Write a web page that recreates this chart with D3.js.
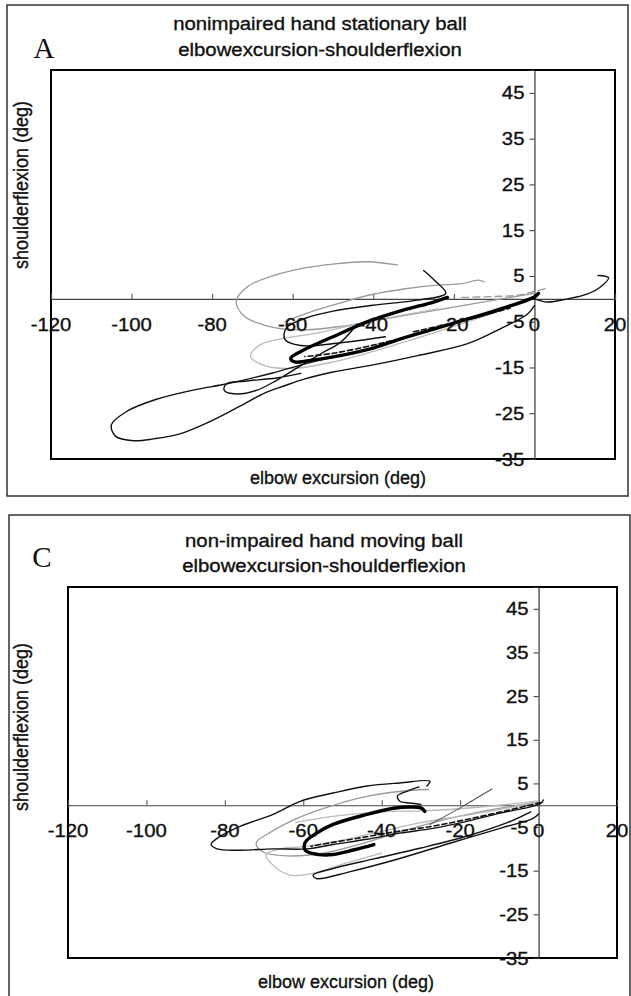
<!DOCTYPE html>
<html>
<head>
<meta charset="utf-8">
<script src="https://cdn.jsdelivr.net/npm/d3@7"></script>
<style>
  html, body { margin: 0; padding: 0; background: #fff; }
  svg { display: block; }
</style>
</head>
<body>
<div id="chart"></div>
<script>
// axis ticks shared by both panels
const xTicks = [-120, -100, -80, -60, -40, -20, 0, 20];
const yTicks = [45, 35, 25, 15, 5, -5, -15, -25, -35];
const xDomain = [-120, 20];
const yDomain = [-35, 50];

// Panel A - nonimpaired hand stationary ball (elbow excursion, shoulder flexion)
const aThick = [[1,1.2],[0,0.4],[-8.4,-2.2],[-16.6,-4.4],[-25,-6.6],[-33,-8.7],[-41,-11],[-50,-12.7],[-56,-13.5],[-59.5,-13.8],[-60.5,-13],[-58,-11.5],[-54,-9.8],[-50,-8.3],[-41.4,-5],[-33,-2.6],[-25,-0.7],[-21.6,0.3]];
const aBundle = [[0.5,0.8],[-10,-2.9],[-20,-5.4],[-30,-7.9],[-40,-10.1],[-50,-11.9],[-57,-12.6]];
const aHook = [[-27.5,6.2],[-24.5,3.8],[-22,1.2],[-30,-0.4],[-40,-1.4],[-50,-2.7],[-57,-4.3],[-61.5,-6.3],[-62,-8.8],[-58,-10.2],[-48,-9.6],[-37,-8.3]];
const aBigLoop = [[0,-1.5],[-1.7,-3.3],[-8.4,-6.5],[-16.6,-9.8],[-29,-12.4],[-41,-14.6],[-50,-16],[-57,-17.5],[-62,-19],[-67,-20.6],[-73,-23.4],[-81,-27],[-88,-29.5],[-94.5,-30.6],[-99.5,-31],[-104,-30],[-105,-27.5],[-101,-24.5],[-94,-22],[-85,-20],[-76,-18.5],[-65,-16.2],[-56,-14],[-48,-12.4],[-40,-10.8]];
const aSmallLoop = [[-44,-5.5],[-48,-9.4],[-53,-12],[-58,-14.6],[-64,-17.8],[-69,-20],[-74,-20.8],[-77,-20],[-76.5,-18.6],[-72,-18],[-64,-17.3],[-58,-16.3]];
const aTail = [[0,0],[3.2,-0.7],[8.2,0],[13.2,1.1],[16.4,2.6],[18.4,4.6],[15.8,5.1]];
const aDashMid = [[-30,-7.2],[-24,-6],[-18,-4.8],[-12,-3.5],[-6,-2]];
const aGrayLoop = [[-34,7.4],[-41.4,8.1],[-50,7.6],[-58,6.6],[-65,5],[-71,2.8],[-74,-0.5],[-72,-3.8],[-66,-6],[-58,-6.8],[-48,-6],[-40,-4.8],[-30,-3.3],[-20,-1.8],[-10,-0.3],[0,1.2]];
const aGrayUpper = [[-62,-5],[-55,-2.7],[-47,-0.6],[-40,1],[-32,2.2],[-24,3],[-18,3.3],[-14,4.1],[-12.5,3.7]];
const aGrayLower = [[0,0.6],[-10,-3],[-20,-6],[-30,-8.8],[-40,-11.5],[-50,-13.8],[-60,-15.2],[-67,-14.6],[-70.5,-12.5],[-68,-10],[-62,-8.6],[-54,-7.5],[-44,-5.5],[-34,-3.8],[-24,-2.2]];
const aGrayDash = [[-18,0.3],[-10,0.5],[-4,0.8],[0,1.6],[3,2.3]];

// Panel C - non-impaired hand moving ball
const cBigLoop = [[-28.5,4.4],[-27.7,5.5],[-35.4,5.1],[-43.8,4.4],[-52.4,2.8],[-60.8,0.9],[-67.7,-2.1],[-76,-4.8],[-82,-7.6],[-83.5,-9],[-82,-10],[-76,-10.3],[-67.7,-10],[-59,-10],[-52.4,-9],[-43.8,-7.8],[-35.4,-6.4],[-26.9,-5.3],[-18.3,-3.7],[-9.8,-1.8],[-1.4,-0.2],[0.8,0.6],[1.2,1.2]];
const cBundle = [[0.5,0.6],[-9,-1.4],[-18,-3.2],[-27,-4.8],[-36,-6],[-45,-7.4],[-53,-8.6],[-58,-9.4]];
const cThick = [[-29,-1.4],[-30,-0.6],[-33,-0.4],[-37,-0.7],[-43.8,-2.1],[-52.4,-4.4],[-56.6,-6.4],[-59.5,-8.5],[-59.5,-10.3],[-56,-11.3],[-52.4,-11.3],[-47,-10.2],[-42,-9]];
const cLowLoop = [[0,-2],[-1.4,-3],[-9.8,-5.3],[-22.6,-8.7],[-35.4,-12.2],[-48,-15.2],[-56.6,-16.8],[-57.5,-16],[-52.4,-14.5],[-42,-12.3],[-30,-9.8],[-18,-7],[-8,-4],[-2,-1.5]];
const cDiagonal = [[-27.7,-4.4],[-20,-0.6],[-11.9,3.7]];
const cSquiggle = [[-30.5,4.2],[-33.6,3.2],[-36,2.1],[-35.4,0.9],[-32.8,0.5],[-30,0.2]];
const cGrayLoop = [[-28,3.6],[-35,3.2],[-45,1.8],[-55,-0.8],[-62,-3.2],[-68,-6],[-72,-8.6],[-70.5,-10.6],[-64,-11.6],[-55,-11],[-45,-8.8],[-35,-6],[-25,-3.5],[-15,-1.5],[-5,0],[0,0.8]];
const cGrayLower = [[-40,-11],[-50,-13.5],[-57,-15.5],[-63.4,-16],[-68,-13.5],[-69.5,-11.3],[-66,-10],[-60,-9.5],[-50,-8],[-40,-6],[-30,-4],[-20,-2.5],[-10,-1],[0,0.8]];
const cGrayUpper = [[-62,-4],[-52,-2.5],[-40,-1.5],[-30,-1.3],[-20,-0.8],[-10,0],[0,1]];

// line styles
const STYLE = {
    thick:    { stroke: '#000', width: 3.4 },
    thin:     { stroke: '#111', width: 1.4 },
    dashed:   { stroke: '#111', width: 1.6, dash: '5,3' },
    gray:     { stroke: '#9a9a9a', width: 1.3 },
    lightGray:{ stroke: '#bababa', width: 1.3 },
    grayDash: { stroke: '#999', width: 1.3, dash: '7,4' },
    darkGray: { stroke: '#555', width: 1.1 }
};

const panels = [
    {
        letter: 'A',
        title: ['nonimpaired hand stationary ball', 'elbowexcursion-shoulderflexion'],
        outer: { x: 7, y: 5, w: 621, h: 491 },
        plot: { left: 51, right: 615, top: 70, bottom: 459 },
        letterPos: [44, 58],
        titleX: 320, titleY: [30, 56],
        xLabelPos: [338, 484],
        yLabelPos: [22, 185],
        traces: [
            [aGrayLoop, 'gray'], [aGrayLower, 'lightGray'], [aGrayUpper, 'gray'], [aGrayDash, 'grayDash'],
            [aBigLoop, 'thin'], [aSmallLoop, 'thin'], [aHook, 'thin'], [aTail, 'thin'],
            [aBundle, 'dashed'], [aDashMid, 'dashed'], [aThick, 'thick']
        ]
    },
    {
        letter: 'C',
        title: ['non-impaired hand moving ball', 'elbowexcursion-shoulderflexion'],
        outer: { x: 9, y: 515, w: 621, h: 500 },
        plot: { left: 68, right: 617, top: 587, bottom: 958 },
        letterPos: [42, 567],
        titleX: 324, titleY: [547, 572],
        xLabelPos: [346, 988],
        yLabelPos: [22, 727],
        traces: [
            [cGrayLoop, 'gray'], [cGrayLower, 'lightGray'], [cGrayUpper, 'lightGray'],
            [cDiagonal, 'darkGray'], [cLowLoop, 'thin'], [cBigLoop, 'thin'], [cSquiggle, 'thin'],
            [cBundle, 'dashed'], [cThick, 'thick']
        ]
    }
];

const WIDTH = 631, HEIGHT = 996;
const SX = 1.13; // the scanned lettering is a bit wider than it is tall
const SANS = '"Liberation Sans", Arial, sans-serif';

const svg = d3.select('#chart').append('svg')
    .attr('width', WIDTH)
    .attr('height', HEIGHT);

svg.append('rect').attr('width', WIDTH).attr('height', HEIGHT).attr('fill', '#fff');

// text helper: stretched horizontally around its anchor point
function label(g, x, y, str, size, anchor, sx = SX) {
    return g.append('text')
        .attr('transform', `translate(${x},${y}) scale(${sx},1)`)
        .style('font-family', SANS)
        .style('font-size', size + 'px')
        .attr('text-anchor', anchor)
        .attr('fill', '#111')
        .attr('stroke', '#111')
        .attr('stroke-width', 0.35)
        .text(str);
}

panels.forEach(p => {
    const g = svg.append('g').attr('class', 'panel-' + p.letter);
    const { left, right, top, bottom } = p.plot;

    const x = d3.scaleLinear().domain(xDomain).range([left, right]);
    const y = d3.scaleLinear().domain(yDomain).range([bottom, top]);

    // outer frame
    g.append('rect')
        .attr('x', p.outer.x).attr('y', p.outer.y)
        .attr('width', p.outer.w).attr('height', p.outer.h)
        .attr('fill', 'none')
        .attr('stroke', '#333')
        .attr('stroke-width', 1.5);

    // panel letter + title
    g.append('text')
        .attr('x', p.letterPos[0]).attr('y', p.letterPos[1])
        .style('font-family', '"Liberation Serif", "Times New Roman", serif')
        .style('font-size', '29px')
        .attr('text-anchor', 'middle')
        .attr('fill', '#111')
        .text(p.letter);
    p.title.forEach((t, i) => label(g, p.titleX, p.titleY[i], t, 18, 'middle'));

    // plot area border
    g.append('rect')
        .attr('x', left).attr('y', top)
        .attr('width', right - left).attr('height', bottom - top)
        .attr('fill', 'none')
        .attr('stroke', '#000')
        .attr('stroke-width', 2);

    // x axis sits on y = 0, ticks pointing up
    const xAxis = d3.axisTop(x).tickValues(xTicks).tickSize(5).tickFormat('');
    const gx = g.append('g').attr('transform', `translate(0,${y(0)})`).call(xAxis);
    gx.select('.domain').attr('stroke', '#444').attr('stroke-width', 1.2);
    gx.selectAll('.tick line').attr('stroke', '#444');

    // y axis sits on x = 0, ticks pointing left
    const yAxis = d3.axisLeft(y).tickValues(yTicks).tickSize(5).tickFormat('');
    const gy = g.append('g').attr('transform', `translate(${x(0)},0)`).call(yAxis);
    gy.select('.domain').attr('stroke', '#333').attr('stroke-width', 1.2);
    gy.selectAll('.tick line').attr('stroke', '#333');

    // data traces
    const line = d3.line()
        .x(d => x(d[0]))
        .y(d => y(d[1]))
        .curve(d3.curveCatmullRom.alpha(0.5));

    p.traces.forEach(([pts, styleName]) => {
        const s = STYLE[styleName];
        g.append('path')
            .datum(pts)
            .attr('d', line)
            .attr('fill', 'none')
            .attr('stroke', s.stroke)
            .attr('stroke-width', s.width)
            .attr('stroke-linejoin', 'round')
            .attr('stroke-linecap', 'round')
            .attr('stroke-dasharray', s.dash || null);
    });

    // tick labels drawn last (Excel style, over the data)
    xTicks.forEach(v => label(g, x(v), y(0) + 32, String(v), 18, 'middle'));
    yTicks.forEach(v => label(g, x(0) - 10, y(v) + 6.5, String(v), 18, 'end'));

    // axis titles
    label(g, p.xLabelPos[0], p.xLabelPos[1], 'elbow excursion (deg)', 18, 'middle', 1.0);
    g.append('text')
        .attr('transform', `translate(${p.yLabelPos[0] + 6},${p.yLabelPos[1]}) rotate(-90) scale(1.0,1.13)`)
        .style('font-family', SANS)
        .style('font-size', '18px')
        .attr('text-anchor', 'middle')
        .attr('fill', '#111')
        .attr('stroke', '#111')
        .attr('stroke-width', 0.35)
        .text('shoulderflexion (deg)');
});
</script>
</body>
</html>
